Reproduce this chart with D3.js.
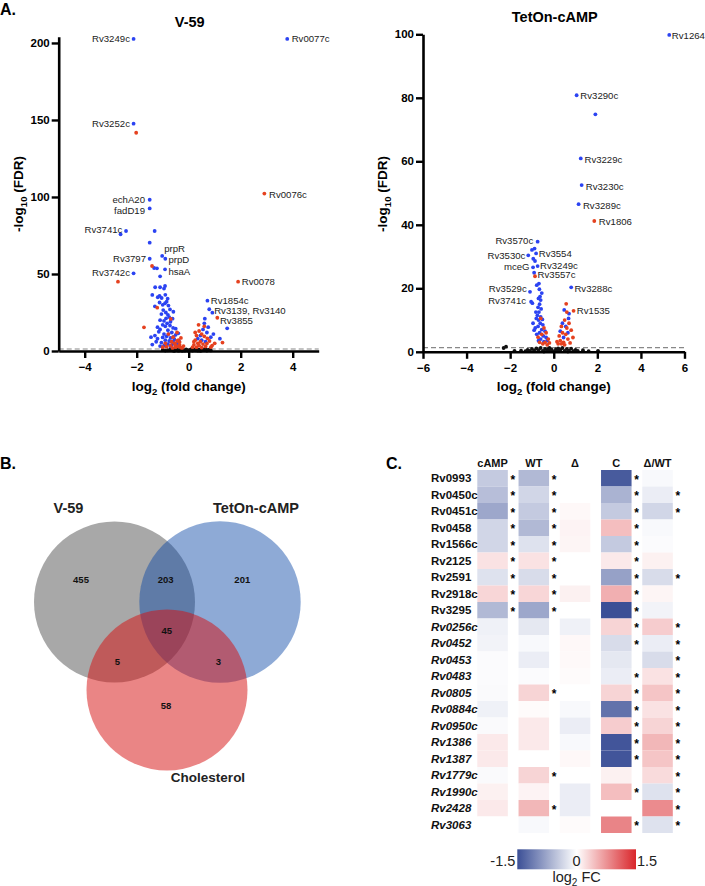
<!DOCTYPE html>
<html><head><meta charset="utf-8">
<script src="https://cdn.jsdelivr.net/npm/d3@7"></script>
<style>body{margin:0;background:#fff} text{font-family:"Liberation Sans",Arial,sans-serif}</style>
</head><body><svg id="c" width="705" height="886"></svg>
<script>
// ---------- Panel A data: V-59 ----------
const v59Blue = [[-2.12,202.6],[3.79,202.6],[-2.12,147.6],[-1.5,98.2],[-1.5,92.6],[-2.41,77.9],[-2.62,75.8],[-1.31,77.9],[-1.5,70.3],[-1.02,61.7],[-0.9,59.9],[-1.5,59.9],[-1.33,53.9],[-1.22,53.7],[-0.91,53],[-1.1,48.5],[-2.12,50.4],
 [-1.29,41.4],[-1.1,41.4],[-0.91,42.2],[-0.95,40.5],[-1.4,36.4],[-1.19,34.9],[-1.04,34.4],[-0.81,34],[-1.12,35.8],[-0.9,36.5],
 [-0.91,31],[-1.0,30],[-1.12,31.5],[-0.78,29.5],[-0.85,32],[-1.3,29],[-0.98,26.6],[-0.72,27],[-0.59,25.5],[-1.05,24],[-0.88,25],[-0.8,23.5],
 [-0.87,21.2],[-0.75,22],[-0.95,19.5],[-0.83,18],[-0.7,19],[-1.1,20],[-0.62,21],[-0.9,16],[-0.6,15],[-1.1,14],[-0.8,13.5],[-0.72,16.5],[-1.0,17],[-0.5,14.5],[-1.2,15.5],
 [-0.65,12],[-0.95,11],[-0.5,10.5],[-0.85,9.5],[-0.7,8.5],[-1.15,12.5],[-1.3,10],[-1.45,9],[-0.4,11.5],[-0.78,11],[-1.0,8.8],[-0.58,9.2],
 [-1.2,8],[-0.55,7.5],[-0.9,7],[-0.75,6.5],[-0.6,6],[-1.05,5.5],[-0.45,5],[-0.8,4.5],[-0.65,4],[-0.5,3.5],[-0.95,3.5],[-0.7,3],[-1.25,6],[-1.4,4.2],[-0.38,6.8],[-1.1,3.2],
 [0.72,32.7],[0.79,27.1],[0.91,24.9],[1.48,14.7],[0.6,18],[0.55,14],[0.7,12],[0.45,10],[0.85,9],[0.5,7],[0.65,6],[0.35,8],[0.95,11],[1.2,8],[0.75,15.5],[0.62,21]];
const v59Red = [[-2.02,141.7],[-1.41,55.2],[-2.72,45],[2.91,102.2],[1.9,45],[1.1,21.6],
 [-1.21,28.1],[-0.69,20.8],[-1.72,15.4],[-0.45,12],[-0.6,9],[-0.4,7],[-0.55,5],[-0.35,4],[-0.7,3.5],[-0.5,2.5],[-0.3,2.2],[-0.85,2.8],[-0.4,3],[-0.25,2],[-0.62,2],[-1.0,2.5],[-0.45,6.5],[-0.78,11],[-0.35,5.8],[-0.3,8.5],[-0.52,4.2],[-0.2,3.2],[-0.66,6],[-0.9,5],
 [0.4,13],[0.3,10],[0.5,11],[0.6,9.5],[0.25,7],[0.45,6],[0.35,5],[0.55,4.5],[0.2,4],[0.4,3.5],[0.7,4.8],[0.3,2.5],[0.5,2.2],[0.65,3],[0.15,2.5],[0.8,6.5],[0.9,3.5],[1.0,5],[1.3,5.5],[0.25,12],[0.6,16],[0.38,17],[0.72,8.2],[0.2,6],[0.85,2.5]];
const v59Black = [[-1.0,0.7],[-0.9,0.3],[-0.8,0.5],[-0.7,1],[-0.6,0.3],[-0.55,0.1],[-0.5,0.8],[-0.45,1.2],[-0.35,0.4],[-0.3,1],[-0.25,0.15],[-0.2,0.6],[-0.15,0.2],[-0.1,1.1],[-0.05,0.5],[0,0.1],[0.05,0.7],[0.1,1.2],[0.15,0.3],[0.2,0.9],[0.25,0.5],[0.3,1.1],[0.35,0.2],[0.4,0.8],[0.45,0.15],[0.5,0.4],[0.55,1.0],[0.6,0.6],[0.65,1.2],[0.7,0.3],[0.8,0.9],[0.85,0.4],[-0.65,0.6],[-0.4,0.2],[0.12,0.5],[0.75,0.7]];
const v59Labels = [["Rv3249c",-2.26,202.6,"end"],["Rv0077c",3.96,202.6,"start"],["Rv3252c",-2.26,147.6,"end"],["echA20",-1.68,98.1,"end"],["fadD19",-1.68,90.9,"end"],["Rv3741c",-2.55,79.0,"end"],["prpR",-0.94,66.6,"start"],["prpD",-0.78,59.2,"start"],["Rv3797",-1.64,59.9,"end"],["hsaA",-0.78,51.9,"start"],["Rv3742c",-2.26,50.8,"end"],["Rv0076c",3.09,101.8,"start"],["Rv0078",2.04,45,"start"],["Rv1854c",0.85,33.1,"start"],["Rv3139, Rv3140",0.98,26,"start"],["Rv3855",1.2,19.7,"start"]];
const v59XTicks = [-4,-2,0,2,4];
const v59YTicks = [0,50,100,150,200];

// ---------- Panel A data: TetOn-cAMP ----------
const tetBlue = [[5.3,99.8],[1.05,80.8],[1.91,74.8],[1.24,60.9],[1.28,52.5],[1.14,46.5],[0.8,20.3],[0.48,13.2],[0.68,10.5],[0.4,9],[0.55,8],[0.3,6.5],[0.65,6],[0.45,4.5],[0.7,12],
 [-0.74,34.7],[-1.0,32.1],[-0.88,32.5],[-0.81,31],[-1.17,30.4],[-0.94,29.3],[-0.86,28.6],[-0.74,27],[-0.95,26.6],[-0.9,24.9],[-1.09,18.9],[-0.78,21],[-1.04,15.8],[-0.98,15.3],
 [-0.66,19.7],[-0.63,17.4],[-0.6,16.3],[-0.7,16.8],[-0.65,15],[-0.72,14],[-0.58,13.5],[-0.68,12.5],[-0.75,11.5],[-0.6,11],[-0.52,10.2],[-0.7,10],[-0.8,10.5],[-0.62,9],[-0.5,8.5],[-0.72,8],[-0.85,7.5],[-0.55,7],[-0.4,6.5],[-0.65,6],[-0.78,5.5],[-0.48,5],[-0.35,4.5],[-0.6,4],[-0.9,6.8],[-0.3,3.5],[-0.45,3.2],[-0.7,3.5],[-0.55,18.5],[-0.68,21.5],[-0.82,12.5],[-0.95,9]];
const tetRed = [[1.86,41.2],[-0.86,23.8],[-0.6,10.5],[-0.45,7.5],[-0.55,5.5],[-0.35,6],[-0.4,3],[-0.25,4],[-0.5,2.5],[-0.3,2.2],[-0.65,3],[-0.2,2.8],[-0.72,4.6],
 [0.91,12.9],[0.57,15.1],[0.6,12.5],[0.5,10],[0.35,8],[0.7,9],[0.4,6],[0.25,5],[0.55,5.5],[0.3,3.5],[0.45,3],[0.2,2.5],[0.65,4],[0.8,6.8],[0.88,4.5],[0.5,2.2],[0.35,2.5],[0.75,2.8],[0.15,3.2],[0.6,7.5]];
const tetBlack = [[-2.19,1.6],[-2.3,1.2],[-1.8,0.3],[-1.5,0.4],[-1.3,0.2],[-1.2,0.6],[-1.1,0.3],[-1.0,0.9],[-0.9,0.4],[-0.8,1.1],[-0.7,0.5],[-0.6,1.2],[-0.5,0.3],[-0.4,0.9],[-0.3,0.5],[-0.2,1.2],[-0.15,0.2],[-0.1,0.7],[0,0.1],[0.1,0.8],[0.15,0.3],[0.2,1.1],[0.3,0.6],[0.4,1.2],[0.5,0.3],[0.6,0.9],[0.7,0.4],[0.8,1.0],[0.9,0.2],[1.0,0.6],[1.1,0.3],[1.34,0.5],[1.6,0.2],[2.03,0.3],[-0.45,0.1],[0.25,0.2],[-0.25,0.8],[0.65,0.1]];
const tetLabels = [["Rv1264",5.42,99.5,"start"],["Rv3290c",1.22,80.8,"start"],["Rv3229c",1.41,60.6,"start"],["Rv3230c",1.47,52,"start"],["Rv3289c",1.34,46.2,"start"],["Rv1806",2.07,41,"start"],["Rv3570c",-0.94,35.2,"end"],["Rv3554",-0.69,31,"start"],["Rv3530c",-1.3,30.2,"end"],["Rv3249c",-0.63,27.3,"start"],["mceG",-1.11,26.8,"end"],["Rv3557c",-0.74,24.2,"start"],["Rv3529c",-1.24,20,"end"],["Rv3741c",-1.27,16.1,"end"],["Rv3288c",0.95,20,"start"],["Rv1535",1.06,12.9,"start"]];
const tetXTicks = [-6,-4,-2,0,2,4,6];
const tetYTicks = [0,20,40,60,80,100];
const fdrCut = 1.3;

// ---------- Panel B data ----------
const vennSets = ["V-59","TetOn-cAMP","Cholesterol"];
const vennRegions = ["V","T","VT","VTC","VC","TC","C"];
const vennCounts = [455,201,203,45,5,3,58];

// ---------- Panel C data ----------
const heatCols = ["cAMP","WT","\u0394","C","\u0394/WT"];
const heatRows = ["Rv0993","Rv0450c","Rv0451c","Rv0458","Rv1566c","Rv2125","Rv2591","Rv2918c","Rv3295","Rv0256c","Rv0452","Rv0453","Rv0483","Rv0805","Rv0884c","Rv0950c","Rv1386","Rv1387","Rv1779c","Rv1990c","Rv2428","Rv3063"];
const italicRows = ["Rv0256c","Rv0452","Rv0453","Rv0483","Rv0805","Rv0884c","Rv0950c","Rv1386","Rv1387","Rv1779c","Rv1990c","Rv2428","Rv3063"];
const heatValues = [
 [-0.45,-0.6,0,-1.4,-0.05],
 [-0.55,-0.35,0,-0.65,-0.15],
 [-0.75,-0.45,0.05,-0.45,-0.35],
 [-0.35,-0.6,0.08,0.45,-0.05],
 [-0.35,-0.25,0.07,-0.45,-0.03],
 [0.2,0.2,0,0.15,0.1],
 [-0.25,-0.3,0,-0.8,-0.3],
 [0.28,0.28,0.1,0.55,0.07],
 [-0.6,-0.75,0,-1.5,-0.1],
 [-0.12,-0.2,-0.12,0.3,0.35],
 [-0.1,-0.05,0.05,-0.3,-0.15],
 [-0.03,-0.15,0.04,-0.2,-0.3],
 [-0.03,-0.03,0.03,-0.15,0.2],
 [-0.04,0.3,0,0.3,0.4],
 [-0.12,0.03,-0.05,-1.2,0.2],
 [-0.04,0.15,-0.15,0.35,0.3],
 [0.15,0.15,-0.05,-1.45,0.5],
 [0.15,0,0.05,-1.45,0.4],
 [-0.04,0.3,0,0.1,0.25],
 [0.1,0.08,-0.15,0.45,-0.25],
 [0.15,0.5,-0.15,0,0.8],
 [0,-0.05,0.03,0.85,-0.25]];
const heatSig = [
 [1,1,0,1,0],[1,1,0,1,1],[1,1,0,1,1],[1,1,0,1,0],[1,1,0,1,0],[1,1,0,1,0],[1,1,0,1,1],[1,1,0,1,0],[1,1,0,1,0],
 [0,0,0,1,1],[0,0,0,1,1],[0,0,0,0,1],[0,0,0,1,1],[0,1,0,1,1],[0,0,0,1,1],[0,0,0,1,1],[0,0,0,1,1],[0,0,0,1,1],
 [0,1,0,0,1],[0,0,0,1,1],[0,1,0,0,1],[0,0,0,1,1]];
const legendTicks = [-1.5,0,1.5];

// ---------- drawing ----------
const svg = d3.select("#c");
const BLUE = "#2b43f2", RED = "#e5411f";

function panelLabel(t,x,y){ svg.append("text").attr("x",x).attr("y",y).attr("font-size",16).attr("font-weight","bold").text(t); }

function volcano(cfg){
  const x = d3.scaleLinear().domain(cfg.xd).range(cfg.xr);
  const y = d3.scaleLinear().domain(cfg.yd).range(cfg.yr);
  const g = svg.append("g");
  g.append("line").attr("x1",x(cfg.xd[0])).attr("x2",x(cfg.xd[1])).attr("y1",y(fdrCut)).attr("y2",y(fdrCut))
    .attr("stroke","#888").attr("stroke-width",1.2).attr("stroke-dasharray","5,3");
  const dots = (arr,col)=>g.append("g").selectAll("circle").data(arr).join("circle")
    .attr("cx",d=>x(d[0])).attr("cy",d=>y(d[1])).attr("r",1.9).attr("fill",col);
  dots(cfg.black,"#111"); dots(cfg.blue,BLUE); dots(cfg.red,RED);
  g.append("g").selectAll("text").data(cfg.labels).join("text")
    .attr("x",d=>x(d[1])).attr("y",d=>y(d[2])).attr("text-anchor",d=>d[3])
    .attr("dominant-baseline","central").attr("font-size",9.6).attr("fill","#222").text(d=>d[0]);
  const xa = g.append("g").attr("transform",`translate(0,${y(0)})`)
    .call(d3.axisBottom(x).tickValues(cfg.xt).tickSize(7).tickSizeOuter(0).tickPadding(5));
  const ya = g.append("g").attr("transform",`translate(${x(cfg.xd[0])},0)`)
    .call(d3.axisLeft(y).tickValues(cfg.yt).tickSize(7).tickSizeOuter(0).tickPadding(2));
  [xa,ya].forEach(a=>{
    a.select(".domain").attr("stroke","#000").attr("stroke-width",2.6);
    a.selectAll(".tick line").attr("stroke","#000").attr("stroke-width",2.4);
    a.selectAll(".tick text").attr("font-size",11.5).attr("font-weight","bold").attr("fill","#000")
      .attr("font-family","Liberation Sans, Arial, sans-serif");
  });
  const cx = (cfg.xr[0]+cfg.xr[1])/2;
  g.append("text").attr("x",cx+1).attr("y",cfg.titleY).attr("text-anchor","middle").attr("font-size",14.5).attr("font-weight","bold").text(cfg.title);
  const xl = g.append("text").attr("x",cx).attr("y",391).attr("text-anchor","middle").attr("font-size",13.5).attr("font-weight","bold");
  xl.append("tspan").text("log");
  xl.append("tspan").attr("font-size",9.5).attr("dy",4).text("2");
  xl.append("tspan").attr("dy",-4).text(" (fold change)");
  const yl = g.append("text").attr("transform",`translate(${cfg.ylx},194) rotate(-90)`).attr("text-anchor","middle").attr("font-size",13.5).attr("font-weight","bold");
  yl.append("tspan").text("-log");
  yl.append("tspan").attr("font-size",9.5).attr("dy",4).text("10");
  yl.append("tspan").attr("dy",-4).text(" (FDR)");
}

panelLabel("A.",0,15);
volcano({xd:[-5,5],xr:[58.7,318.7],yd:[0,204],yr:[351,36.8],xt:v59XTicks,yt:v59YTicks,
  blue:v59Blue,red:v59Red,black:v59Black,labels:v59Labels,title:"V-59",titleY:27,ylx:23});
volcano({xd:[-6,6],xr:[423,684.5],yd:[0,100],yr:[351.8,34.3],xt:tetXTicks,yt:tetYTicks,
  blue:tetBlue,red:tetRed,black:tetBlack,labels:tetLabels,title:"TetOn-cAMP",titleY:22,ylx:387});

// ---------- Panel B: Venn ----------
panelLabel("B.",0,469);
const vennGeom = [{cx:114.5,cy:602,r:80.5,fill:"#a8a8a8",op:1},{cx:220,cy:602,r:80.7,fill:"rgb(9,70,166)",op:0.46},{cx:167,cy:690,r:80.5,fill:"rgb(214,16,16)",op:0.51}];
const vg = svg.append("g");
vg.selectAll("circle").data(vennSets).join("circle")
  .attr("cx",(d,i)=>vennGeom[i].cx).attr("cy",(d,i)=>vennGeom[i].cy).attr("r",(d,i)=>vennGeom[i].r)
  .attr("fill",(d,i)=>vennGeom[i].fill).attr("fill-opacity",(d,i)=>vennGeom[i].op);
const vennTitlePos = [[68.5,513],[256,513],[208,782]];
vg.selectAll("text.set").data(vennSets).join("text").attr("class","set")
  .attr("x",(d,i)=>vennTitlePos[i][0]).attr("y",(d,i)=>vennTitlePos[i][1]).attr("text-anchor","middle")
  .attr("font-size",(d,i)=>i==2?13.5:14.5).attr("font-weight","bold").attr("fill","#222").text(d=>d);
const regionPos = {V:[81,580],T:[242.3,580],VT:[165.7,580],VTC:[166.7,631],VC:[117.3,661.7],TC:[218.3,661.7],C:[166,706]};
vg.selectAll("text.cnt").data(vennRegions).join("text").attr("class","cnt")
  .attr("x",d=>regionPos[d][0]).attr("y",d=>regionPos[d][1]+3.2).attr("text-anchor","middle")
  .attr("font-size",9.5).attr("font-weight","bold").attr("fill","#111").text((d,i)=>vennCounts[i]);

// ---------- Panel C: heatmap ----------
panelLabel("C.",386,469);
const hx = d3.scaleBand().domain(heatCols).range([477.3,672.8]).paddingInner(0.26).paddingOuter(0);
const hy = d3.scaleBand().domain(heatRows).range([470,833]);
const color = d3.scaleLinear().domain([-1.5,0,1.5]).range(["#3b4f96","#ffffff","#d9262b"]).clamp(true);
const hg = svg.append("g");
const cells = [];
heatRows.forEach((r,i)=>heatCols.forEach((c,j)=>cells.push({r,c,v:heatValues[i][j],s:heatSig[i][j]})));
hg.selectAll("rect").data(cells).join("rect")
  .attr("x",d=>hx(d.c)).attr("y",d=>hy(d.r)).attr("width",hx.bandwidth()).attr("height",hy.bandwidth())
  .attr("fill",d=>color(d.v));
hg.selectAll("text.star").data(cells.filter(d=>d.s)).join("text").attr("class","star")
  .attr("x",d=>hx(d.c)+hx.bandwidth()+5).attr("y",d=>hy(d.r)+hy.bandwidth()/2+5.5).attr("text-anchor","middle")
  .attr("font-size",12).attr("font-weight","bold").text("*");
hg.selectAll("text.col").data(heatCols).join("text").attr("class","col")
  .attr("x",d=>hx(d)+hx.bandwidth()/2).attr("y",466.5).attr("text-anchor","middle")
  .attr("font-size",11).attr("font-weight","bold").attr("fill","#111").text(d=>d);
hg.selectAll("text.row").data(heatRows).join("text").attr("class","row")
  .attr("x",431).attr("y",d=>hy(d)+hy.bandwidth()/2+4).attr("font-size",11.5).attr("font-weight","bold")
  .attr("font-style",d=>italicRows.includes(d)?"italic":"normal").attr("fill","#111").text(d=>d);

// legend
const lx = d3.scaleLinear().domain([-1.5,1.5]).range([517.3,636]);
const grad = svg.append("defs").append("linearGradient").attr("id","lg");
d3.range(0,1.0001,0.1).forEach(t=>grad.append("stop").attr("offset",t).attr("stop-color",color(-1.5+3*t)));
svg.append("rect").attr("x",lx(-1.5)).attr("y",849.3).attr("width",lx(1.5)-lx(-1.5)).attr("height",20).attr("fill","url(#lg)");
svg.selectAll("text.lt").data(legendTicks).join("text").attr("class","lt")
  .attr("x",d=>d<0?lx(d)-2:d>0?lx(d)+1:lx(d)).attr("y",866)
  .attr("text-anchor",d=>d<0?"end":d>0?"start":"middle").attr("font-size",14.5).attr("fill","#222").text(d=>d);
const lt = svg.append("text").attr("x",lx(0)).attr("y",882).attr("text-anchor","middle").attr("font-size",14.5).attr("fill","#222");
lt.append("tspan").text("log");
lt.append("tspan").attr("font-size",10).attr("dy",3.5).text("2");
lt.append("tspan").attr("dy",-3.5).text(" FC");
</script></body></html>
